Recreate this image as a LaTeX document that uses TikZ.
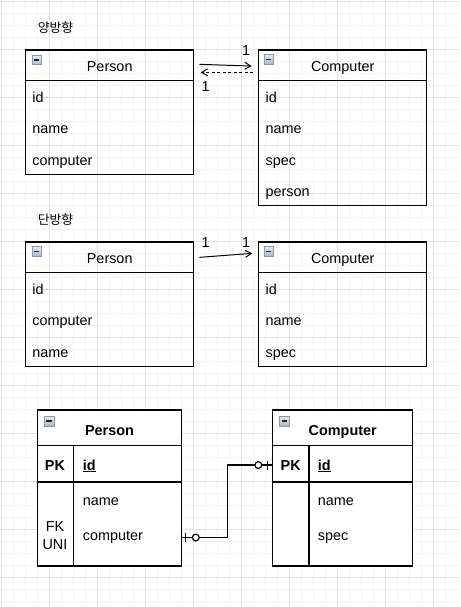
\documentclass[tikz,border=0pt]{standalone}
\usepackage{fontspec}
\setmainfont{Liberation Sans}
\newfontfamily\korfont{Noto Sans CJK KR}
\usepackage{tikz}
\usetikzlibrary{arrows.meta}

\definecolor{gridminor}{HTML}{F4F4F4}
\definecolor{gridmajor}{HTML}{E3E3E3}
\definecolor{foldtop}{HTML}{E6EBF0}
\definecolor{foldbottom}{HTML}{AEB9C4}
\definecolor{foldedge}{HTML}{8B99A7}

\begin{document}
\begin{tikzpicture}[x=1pt, y=-1pt, line width=1.2pt,
    lbl/.style={font=\fontsize{14.4}{17}\selectfont, inner sep=0pt},
    bold/.style={font=\fontsize{14.4}{17}\selectfont\bfseries},
    field/.style={lbl, anchor=base west},
    header/.style={lbl, draw, outer sep=0pt, minimum width=168pt, minimum height=30.7pt, text height=13.5pt, text depth=0.5pt},
    body/.style={draw, outer sep=0pt, minimum width=168pt, anchor=north},
    erheader/.style={lbl, bold, draw, fill=white, outer sep=0pt, minimum height=35.7pt, text height=14.8pt, text depth=0.5pt},
    errow/.style={draw, fill=white, outer sep=0pt, anchor=north},
    fold/.style={draw=foldedge, line width=0.6pt, top color=foldtop, bottom color=foldbottom, minimum width=9.6pt, minimum height=9.6pt, inner sep=0pt,
      path picture={\draw[line width=1.4pt, black!85] ([xshift=2.2pt]path picture bounding box.west) -- ([xshift=-2.2pt]path picture bounding box.east);}},
    card/.style={lbl, anchor=base},
    link/.style={line width=1pt, -{Straight Barb[length=6pt, width=7pt]}}]

\useasboundingbox[fill=white] (0,0) rectangle (460,607);

% grid
\foreach \k in {0,...,38} \draw[gridminor, line width=0.8pt] (1.3+12*\k, 0) -- (1.3+12*\k, 607);
\foreach \k in {0,...,50} \draw[gridminor, line width=0.8pt] (0, 1.3+12*\k) -- (460, 1.3+12*\k);
\foreach \k in {0,...,9} \draw[gridmajor, line width=0.8pt] (1.3+48*\k, 0) -- (1.3+48*\k, 607);
\foreach \k in {0,...,12} \draw[gridmajor, line width=0.8pt] (0, 1.3+48*\k) -- (460, 1.3+48*\k);

% both directions
\node[inner sep=0pt, font=\fontsize{12.8}{15}\korfont] (title a) at (55.5, 27.5) {양방향};

\node[header] (person a) at (109.7, 65.35) {Person};
\node[body, minimum height=94pt] (person a body) at (person a.south) {};
\node[fold] (person a fold) at ([xshift=11pt, yshift=-10pt]person a.north west) {};
\node[field] (pa id) at (31.8, 102.5) {id};
\node[field] (pa name) at (31.8, 133.8) {name};
\node[field] (pa computer) at (31.8, 165.1) {computer};

\node[header] (computer a) at (342.7, 65.35) {Computer};
\node[body, minimum height=125pt] (computer a body) at (computer a.south) {};
\node[fold] (computer a fold) at ([xshift=10pt, yshift=-9.5pt]computer a.north west) {};
\node[field] (ca id) at (265, 102.5) {id};
\node[field] (ca name) at (265, 133.8) {name};
\node[field] (ca spec) at (265, 165.1) {spec};
\node[field] (ca person) at (265, 196.4) {person};

\draw[link] ([xshift=5.6pt, yshift=1pt]person a.east) -- ([xshift=-7pt, yshift=-0.7pt]computer a.west);
\draw[link, dash pattern=on 3pt off 2.5pt] ([xshift=-5.4pt, yshift=-7pt]computer a.west) -- ([xshift=7pt, yshift=-7pt]person a.east);
\node[card] (card a1) at (246, 56) {1};
\node[card] (card a2) at (205.7, 91.7) {1};

% one direction
\node[inner sep=0pt, font=\fontsize{12.8}{15}\korfont] (title b) at (55.5, 220) {단방향};

\node[header] (person b) at (109.7, 257.35) {Person};
\node[body, minimum height=94pt] (person b body) at (person b.south) {};
\node[fold] (person b fold) at ([xshift=11pt, yshift=-9.5pt]person b.north west) {};
\node[field] (pb id) at (31.8, 294.5) {id};
\node[field] (pb computer) at (31.8, 325.8) {computer};
\node[field] (pb name) at (31.8, 357.1) {name};

\node[header] (computer b) at (342.7, 257.35) {Computer};
\node[body, minimum height=94pt] (computer b body) at (computer b.south) {};
\node[fold] (computer b fold) at ([xshift=10pt, yshift=-9.5pt]computer b.north west) {};
\node[field] (cb id) at (265, 294.5) {id};
\node[field] (cb name) at (265, 325.8) {name};
\node[field] (cb spec) at (265, 357.1) {spec};

\draw[link] ([xshift=5.6pt]person b.east) -- ([xshift=-6.4pt, yshift=4pt]computer b.west);
\node[card] (card b1) at (205.7, 247.7) {1};
\node[card] (card b2) at (246, 247.7) {1};

% tables
\node[erheader, minimum width=144.4pt] (person c) at (109.5, 427.85) {Person};
\node[errow, minimum width=144.4pt, minimum height=36.3pt] (person c pk) at (person c.south) {};
\node[errow, minimum width=144.4pt, minimum height=84pt] (person c rest) at (person c pk.south) {};
\draw ([xshift=36pt]person c pk.north west) -- ([xshift=36pt]person c rest.south west);
\node[fold] (person c fold) at ([xshift=11.7pt, yshift=-11pt]person c.north west) {};
\node[lbl, bold, anchor=base] (pc pk) at (55, 470) {PK};
\node[field, bold] (pc id) at (82.3, 470) {\underline{id}};
\node[field] (pc name) at (82.3, 505.7) {name};
\node[field] (pc computer) at (82.3, 540.7) {computer};
\node[lbl, font=\fontsize{14.4}{17.7}\selectfont, align=center] (pc fk) at (55, 535.7) {FK\\UNI};

\node[erheader, minimum width=140pt] (computer c) at (342.7, 427.85) {Computer};
\node[errow, minimum width=140pt, minimum height=36.3pt] (computer c pk) at (computer c.south) {};
\node[errow, minimum width=140pt, minimum height=84pt] (computer c rest) at (computer c pk.south) {};
\draw ([xshift=36.3pt]computer c pk.north west) -- ([xshift=36.3pt]computer c rest.south west);
\node[fold] (computer c fold) at ([xshift=11.6pt, yshift=-11pt]computer c.north west) {};
\node[lbl, bold, anchor=base] (cc pk) at (290.7, 470) {PK};
\node[field, bold] (cc id) at (317.3, 470) {\underline{id}};
\node[field] (cc name) at (317.3, 505.7) {name};
\node[field] (cc spec) at (317.3, 540.7) {spec};

\coordinate (fk end) at (person c.east |- pc computer);
\coordinate (pk end) at (computer c.west |- cc pk);
\draw (fk end) -- ++(45.6, 0) |- (pk end);
\draw ([xshift=4pt, yshift=4.5pt]fk end) -- ([xshift=4pt, yshift=-4.5pt]fk end);
\draw[fill=white] ([xshift=14.1pt]fk end) circle[radius=3.4pt];
\draw ([xshift=-5.4pt, yshift=4.5pt]pk end) -- ([xshift=-5.4pt, yshift=-4.5pt]pk end);
\draw[fill=white] ([xshift=-14.4pt]pk end) circle[radius=3.4pt];

\end{tikzpicture}
\end{document}
